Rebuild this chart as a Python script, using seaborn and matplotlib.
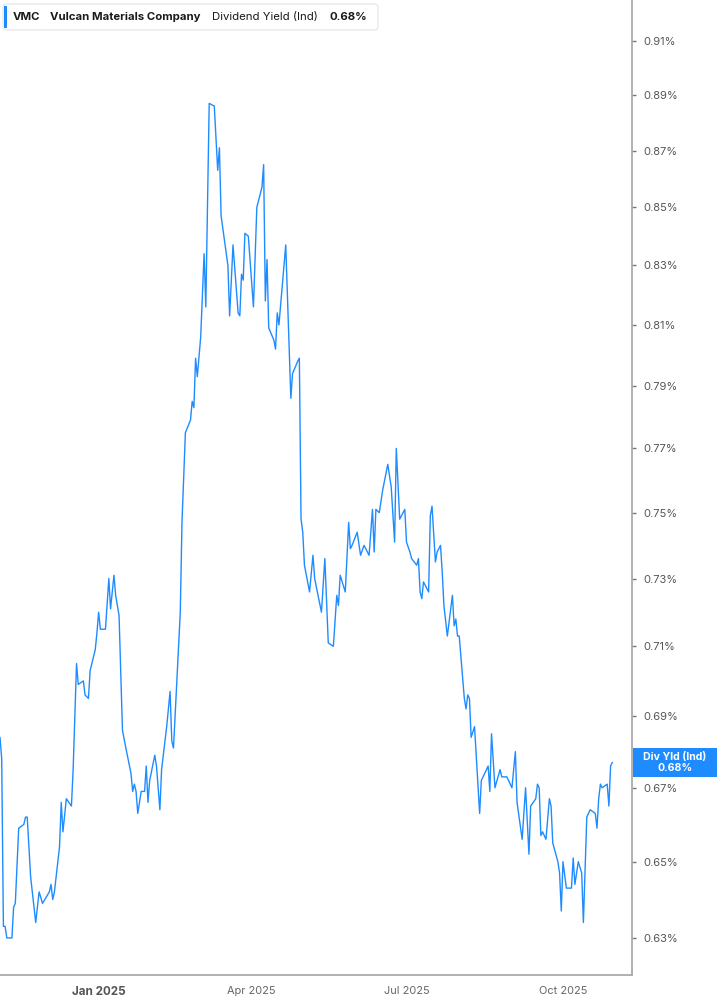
import matplotlib
matplotlib.use("Agg")
import matplotlib.pyplot as plt
import seaborn as sns
import pandas as pd
from matplotlib.ticker import FixedLocator, NullLocator, FuncFormatter
from matplotlib.transforms import IdentityTransform
from matplotlib.patches import FancyBboxPatch, Rectangle

# ---------------- data ----------------
dates = [
    "2024-11-04", "2024-11-05", "2024-11-06", "2024-11-07", "2024-11-08", "2024-11-11",
    "2024-11-12", "2024-11-13", "2024-11-15", "2024-11-18", "2024-11-19", "2024-11-20",
    "2024-11-22", "2024-11-25", "2024-11-27", "2024-11-29", "2024-12-03", "2024-12-04",
    "2024-12-05", "2024-12-06", "2024-12-09", "2024-12-10", "2024-12-11", "2024-12-13",
    "2024-12-16", "2024-12-17", "2024-12-19", "2024-12-20", "2024-12-23", "2024-12-24",
    "2024-12-26", "2024-12-27", "2024-12-30", "2024-12-31", "2025-01-01", "2025-01-02",
    "2025-01-05", "2025-01-07", "2025-01-08", "2025-01-10", "2025-01-11", "2025-01-13",
    "2025-01-15", "2025-01-17", "2025-01-20", "2025-01-21", "2025-01-22", "2025-01-23",
    "2025-01-24", "2025-01-25", "2025-01-26", "2025-01-28", "2025-01-29", "2025-01-30",
    "2025-01-31", "2025-02-03", "2025-02-04", "2025-02-06", "2025-02-07", "2025-02-08",
    "2025-02-10", "2025-02-12", "2025-02-13", "2025-02-14", "2025-02-16", "2025-02-18",
    "2025-02-19", "2025-02-21", "2025-02-24", "2025-02-25", "2025-02-26", "2025-02-27",
    "2025-02-28", "2025-03-02", "2025-03-04", "2025-03-05", "2025-03-07", "2025-03-10",
    "2025-03-12", "2025-03-13", "2025-03-14", "2025-03-18", "2025-03-19", "2025-03-21",
    "2025-03-24", "2025-03-25", "2025-03-26", "2025-03-27", "2025-03-28", "2025-03-30",
    "2025-04-02", "2025-04-04", "2025-04-07", "2025-04-08", "2025-04-09", "2025-04-10",
    "2025-04-11", "2025-04-14", "2025-04-15", "2025-04-16", "2025-04-17", "2025-04-21",
    "2025-04-24", "2025-04-25", "2025-04-28", "2025-04-29", "2025-04-30", "2025-05-01",
    "2025-05-02", "2025-05-05", "2025-05-07", "2025-05-08", "2025-05-12", "2025-05-14",
    "2025-05-16", "2025-05-19", "2025-05-21", "2025-05-22", "2025-05-23", "2025-05-26",
    "2025-05-28", "2025-05-29", "2025-05-30", "2025-06-02", "2025-06-04", "2025-06-06",
    "2025-06-09", "2025-06-11", "2025-06-12", "2025-06-13", "2025-06-15", "2025-06-17",
    "2025-06-20", "2025-06-22", "2025-06-24", "2025-06-25", "2025-06-27", "2025-06-30",
    "2025-07-01", "2025-07-03", "2025-07-04", "2025-07-07", "2025-07-08", "2025-07-09",
    "2025-07-10", "2025-07-11", "2025-07-14", "2025-07-15", "2025-07-16", "2025-07-18",
    "2025-07-19", "2025-07-21", "2025-07-22", "2025-07-23", "2025-07-25", "2025-07-28",
    "2025-07-29", "2025-07-30", "2025-07-31", "2025-08-01", "2025-08-04", "2025-08-05",
    "2025-08-06", "2025-08-07", "2025-08-08", "2025-08-10", "2025-08-13", "2025-08-14",
    "2025-08-18", "2025-08-19", "2025-08-20", "2025-08-22", "2025-08-25", "2025-08-26",
    "2025-08-29", "2025-09-01", "2025-09-03", "2025-09-04", "2025-09-07", "2025-09-09",
    "2025-09-11", "2025-09-12", "2025-09-15", "2025-09-16", "2025-09-17", "2025-09-18",
    "2025-09-19", "2025-09-21", "2025-09-23", "2025-09-24", "2025-09-25", "2025-09-28",
    "2025-09-29", "2025-09-30", "2025-10-01", "2025-10-03", "2025-10-06", "2025-10-07",
    "2025-10-08", "2025-10-10", "2025-10-12", "2025-10-13", "2025-10-15", "2025-10-17",
    "2025-10-20", "2025-10-21", "2025-10-22", "2025-10-23", "2025-10-24", "2025-10-27",
    "2025-10-28", "2025-10-29", "2025-10-30",
]

div_yield = [
    0.684, 0.678, 0.633, 0.633, 0.630, 0.630,
    0.638, 0.639, 0.659, 0.660, 0.662, 0.662,
    0.646, 0.634, 0.642, 0.639, 0.642, 0.644,
    0.640, 0.642, 0.654, 0.666, 0.658, 0.667,
    0.665, 0.675, 0.705, 0.699, 0.700, 0.696,
    0.695, 0.703, 0.709, 0.714, 0.720, 0.715,
    0.715, 0.730, 0.721, 0.731, 0.725, 0.719,
    0.686, 0.681, 0.674, 0.669, 0.671, 0.669,
    0.663, 0.666, 0.669, 0.669, 0.676, 0.666,
    0.672, 0.679, 0.676, 0.664, 0.675, 0.679,
    0.687, 0.697, 0.683, 0.681, 0.700, 0.720,
    0.747, 0.775, 0.779, 0.785, 0.783, 0.799,
    0.793, 0.806, 0.834, 0.816, 0.887, 0.886,
    0.863, 0.871, 0.847, 0.830, 0.813, 0.837,
    0.814, 0.813, 0.827, 0.825, 0.841, 0.840,
    0.816, 0.850, 0.857, 0.865, 0.818, 0.832,
    0.809, 0.805, 0.802, 0.814, 0.810, 0.837,
    0.786, 0.794, 0.798, 0.799, 0.748, 0.744,
    0.734, 0.726, 0.737, 0.730, 0.720, 0.736,
    0.711, 0.710, 0.725, 0.722, 0.731, 0.726,
    0.747, 0.739, 0.740, 0.744, 0.737, 0.740,
    0.737, 0.751, 0.738, 0.751, 0.750, 0.757,
    0.765, 0.758, 0.741, 0.770, 0.748, 0.751,
    0.741, 0.738, 0.736, 0.734, 0.736, 0.726,
    0.724, 0.729, 0.726, 0.749, 0.752, 0.735,
    0.738, 0.740, 0.732, 0.722, 0.713, 0.725,
    0.716, 0.718, 0.713, 0.713, 0.695, 0.692,
    0.696, 0.695, 0.684, 0.687, 0.663, 0.672,
    0.676, 0.669, 0.685, 0.670, 0.675, 0.673,
    0.673, 0.670, 0.680, 0.666, 0.656, 0.670,
    0.652, 0.665, 0.667, 0.671, 0.670, 0.657,
    0.658, 0.656, 0.667, 0.665, 0.655, 0.650,
    0.647, 0.637, 0.650, 0.643, 0.643, 0.651,
    0.644, 0.650, 0.647, 0.634, 0.662, 0.664,
    0.663, 0.659, 0.667, 0.671, 0.670, 0.671,
    0.665, 0.676, 0.677,
]

y_ticks = [0.63, 0.65, 0.67, 0.69, 0.71, 0.73, 0.75, 0.77, 0.79, 0.81, 0.83, 0.85, 0.87, 0.89, 0.91]
x_tick_dates = ["2025-01-01", "2025-04-01", "2025-07-01", "2025-10-01"]
x_tick_labels = ["Jan 2025", "Apr 2025", "Jul 2025", "Oct 2025"]

ticker_symbol = "VMC"
company = "Vulcan Materials Company"
metric = "Dividend Yield (Ind)"
last_value_text = "0.68%"
badge_title = "Div Yld (Ind)"

# ---------------- style ----------------
BLUE = "#1e8cff"
sns.set_style("white")
plt.rcParams["font.family"] = ["Inter", "DejaVu Sans"]

W, H = 717, 1005
fig = plt.figure(figsize=(W / 100, H / 100), dpi=100)
ax = fig.add_axes([0, 30 / H, 632 / W, 975 / H])

df = pd.DataFrame({"date": pd.to_datetime(dates), "yield": div_yield})
sns.lineplot(data=df, x="date", y="yield", ax=ax, color=BLUE, linewidth=1.0,
             estimator=None, legend=False)

ax.set_yscale("log")
ax.set_ylim(0.6205, 0.9254)
ax.set_xlim(pd.Timestamp("2024-11-04"), pd.Timestamp("2025-11-10 14:00"))

ax.yaxis.set_major_locator(FixedLocator(y_ticks))
ax.yaxis.set_minor_locator(NullLocator())
ax.yaxis.set_major_formatter(FuncFormatter(lambda v, p: f"{v:.2f}%"))
ax.yaxis.tick_right()
ax.tick_params(axis="y", which="major", direction="out", length=3, width=1,
               color="#777777", labelsize=8.0, labelcolor="#555555", pad=5,
               left=False, right=True)

ax.set_xticks(pd.to_datetime(x_tick_dates))
ax.set_xticklabels(x_tick_labels)
ax.xaxis.set_minor_locator(NullLocator())
ax.tick_params(axis="x", which="major", direction="out", length=4, width=1,
               color="#777777", labelsize=7.9, labelcolor="#666666", pad=4)
xl = ax.get_xticklabels()
xl[0].set_fontweight("bold")
xl[0].set_color("#555555")
xl[0].set_fontsize(8.4)

ax.set_xlabel("")
ax.set_ylabel("")
for s in ["top", "left"]:
    ax.spines[s].set_visible(False)
for s in ["bottom", "right"]:
    ax.spines[s].set_visible(True)
    ax.spines[s].set_color("#aaaaaa")
    ax.spines[s].set_linewidth(1.3)
ax.grid(False)

# ---------------- header legend box ----------------
ident = IdentityTransform()
box = FancyBboxPatch((3, H - 30), 375, 26, boxstyle="round,pad=0,rounding_size=3",
                     transform=ident, facecolor="white", edgecolor="#e3e3e3",
                     linewidth=0.8, zorder=5)
fig.add_artist(box)
bar = Rectangle((4, H - 28), 3, 22, transform=ident, facecolor=BLUE,
                edgecolor="none", zorder=6)
fig.add_artist(bar)
ty = H - 17
fs = 8.2
fig.text(13, ty, ticker_symbol, transform=ident, fontsize=fs, fontweight="bold",
         color="#1a1a1a", va="center", ha="left", zorder=7)
fig.text(50, ty, company, transform=ident, fontsize=fs, fontweight="bold",
         color="#1a1a1a", va="center", ha="left", zorder=7)
fig.text(212, ty, metric, transform=ident, fontsize=fs, fontweight="normal",
         color="#1a1a1a", va="center", ha="left", zorder=7)
fig.text(329, ty, last_value_text, transform=ident, fontsize=fs, fontweight="bold",
         color="#1a1a1a", va="center", ha="left", zorder=7)

# ---------------- right value badge ----------------
badge = Rectangle((633, H - 777), 84, 29, transform=ident, facecolor=BLUE,
                  edgecolor="none", zorder=6)
fig.add_artist(badge)
fig.text(675, H - 757, badge_title, transform=ident, fontsize=7.6, fontweight="bold",
         color="white", va="center", ha="center", zorder=7)
fig.text(675, H - 768, last_value_text, transform=ident, fontsize=7.6, fontweight="bold",
         color="white", va="center", ha="center", zorder=7)

fig.savefig("out.png", dpi=100)
